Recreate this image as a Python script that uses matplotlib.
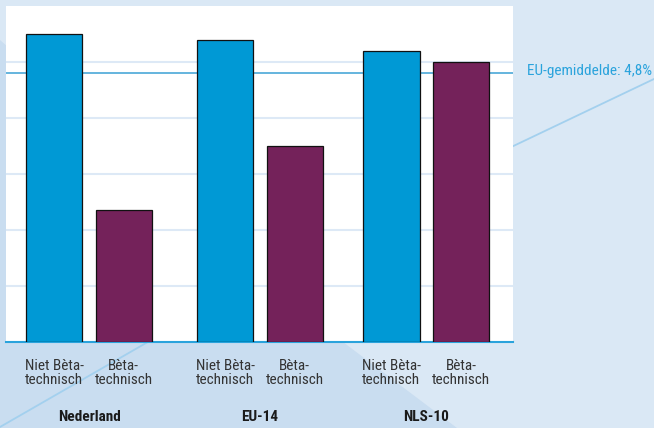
import matplotlib
matplotlib.use('Agg')
import matplotlib.pyplot as plt
from matplotlib import font_manager
from matplotlib.patches import Polygon
from matplotlib.lines import Line2D
import numpy as np

# data (percentages)
groups = ['Nederland', 'EU-14', 'NLS-10']
categories = ['Niet Bèta-\ntechnisch', 'Bèta-\ntechnisch']
niet_beta = [5.5, 5.4, 5.2]
beta = [2.35, 3.5, 5.0]
eu_avg = 4.8
eu_label = 'EU-gemiddelde: 4,8%'

blue = '#0099d5'
purple = '#74225a'
light_bg = '#dae8f5'
dark_bg = '#c9ddf0'
accent = '#2aa3dc'

# pick a narrow font if one is around
names = {f.name for f in font_manager.fontManager.ttflist}
fam = 'DejaVu Sans'
small = True
for cand in ['Liberation Sans Narrow', 'Roboto Condensed', 'Open Sans Condensed',
             'DejaVu Sans Condensed', 'Noto Sans Condensed']:
    if cand in names:
        fam = cand
        small = False
        break
plt.rcParams['font.family'] = [fam, 'DejaVu Sans']
fs = 8 if small else 11

W, H = 654, 428
fig = plt.figure(figsize=(W / 100, H / 100), dpi=100, facecolor=light_bg)


def fx(px):
    return px / W


def fy(py):
    return 1 - py / H


# decorative background shapes, kept behind the axes
fig.add_artist(Polygon([(fx(0), fy(40)), (fx(343), fy(342)), (fx(457), fy(428)), (fx(0), fy(428))],
                       closed=True, transform=fig.transFigure, facecolor=dark_bg, edgecolor='none', zorder=-2))
fig.add_artist(Line2D([fx(0), fx(160)], [fy(427), fy(335)], transform=fig.transFigure,
                      color='#a3d0ee', lw=1.3, zorder=-1))
fig.add_artist(Line2D([fx(505), fx(654)], [fy(150), fy(79)], transform=fig.transFigure,
                      color='#a3d0ee', lw=1.3, zorder=-1))

ax = fig.add_axes([fx(6), fy(342), fx(513) - fx(6), fy(6) - fy(342)])
ax.set_facecolor('white')

group_pos = np.array([0, 2.46, 4.85])
width = 0.81
ax.bar(group_pos, niet_beta, width, color=blue, edgecolor='#111111', linewidth=0.9, zorder=3)
ax.bar(group_pos + 1, beta, width, color=purple, edgecolor='#111111', linewidth=0.9, zorder=3)

ax.set_xlim(-0.695, 6.6)
ax.set_ylim(0, 6)
ax.set_yticks([1, 2, 3, 4, 5])
ax.yaxis.grid(True, color='#dde9f6', linewidth=1.5, zorder=0)
ax.set_axisbelow(True)
ax.tick_params(axis='y', length=0, labelleft=False)

ax.axhline(eu_avg, color='#4aa8d8', linewidth=1.2, zorder=2)

for s in ['top', 'left', 'right']:
    ax.spines[s].set_visible(False)
ax.spines['bottom'].set_color(accent)
ax.spines['bottom'].set_linewidth(1.5)

xt = np.concatenate([group_pos, group_pos + 1])
xl = [categories[0]] * 3 + [categories[1]] * 3
ax.set_xticks(xt)
ax.set_xticklabels(xl, fontsize=fs, color='#333333', linespacing=1.0)
ax.tick_params(axis='x', length=0, pad=12)

for g, p in zip(groups, group_pos):
    ax.text(p + 0.5, -0.222, g, transform=ax.get_xaxis_transform(), ha='center', va='center',
            fontsize=fs, fontweight='bold', color='#1a1a1a')

fig.text(fx(527), fy(71), eu_label, ha='left', va='center', fontsize=fs, color=accent)

fig.savefig('out.png', dpi=100, facecolor=light_bg)
